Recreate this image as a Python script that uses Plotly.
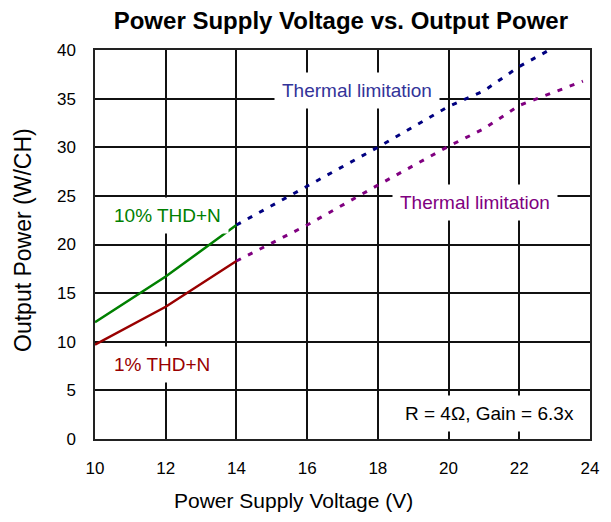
import plotly.graph_objects as go

# 10% THD+N measured (solid) and thermal-limited extension (dotted)
v_10_solid = [10, 12, 14]
p_10_solid = [12.0, 16.7, 22.0]
v_10_dot = [14, 16, 18, 20, 21, 22, 23]
p_10_dot = [22.0, 26.0, 30.0, 34.2, 35.8, 38.3, 40.3]

# 1% THD+N measured (solid) and thermal-limited extension (dotted)
v_1_solid = [10, 12, 14]
p_1_solid = [9.7, 13.6, 18.3]
v_1_dot = [14, 16, 18, 20, 21, 22, 23.8]
p_1_dot = [18.3, 22.0, 26.1, 30.1, 31.9, 34.3, 36.8]

x_ticks = [10, 12, 14, 16, 18, 20, 22, 24]
y_ticks = [0, 5, 10, 15, 20, 25, 30, 35, 40]

FONT = "Liberation Sans, Arial, sans-serif"
DOT = "5px,8px"

fig = go.Figure()
fig.add_trace(go.Scatter(x=v_10_dot, y=p_10_dot, mode="lines",
                         line=dict(color="#000080", width=3, dash=DOT)))
fig.add_trace(go.Scatter(x=v_1_dot, y=p_1_dot, mode="lines",
                         line=dict(color="#800080", width=3, dash=DOT)))
fig.add_trace(go.Scatter(x=v_10_solid, y=p_10_solid, mode="lines",
                         line=dict(color="#008000", width=2.5)))
fig.add_trace(go.Scatter(x=v_1_solid, y=p_1_solid, mode="lines",
                         line=dict(color="#990000", width=2.5)))

ann = [
    dict(x=17.4, y=35.8, text="Thermal limitation", color="#333399"),
    dict(x=20.76, y=24.3, text="Thermal limitation", color="#800080"),
    dict(x=12.06, y=23.0, text="10% THD+N", color="#008000"),
    dict(x=11.9, y=7.7, text="1% THD+N", color="#990000"),
    dict(x=21.15, y=2.67, text="R = 4\u03a9, Gain = 6.3x", color="#000000"),
]
for a in ann:
    fig.add_annotation(x=a["x"], y=a["y"], text=a["text"], showarrow=False,
                       font=dict(family=FONT, size=19, color=a["color"]),
                       bgcolor="white", borderpad=7, xanchor="center", yanchor="middle")

# axis titles
fig.add_annotation(xref="paper", yref="paper", x=0.4004, y=-0.157,
                   text="Power Supply Voltage (V)", showarrow=False,
                   font=dict(family=FONT, size=21, color="black"),
                   xanchor="center", yanchor="middle")
fig.add_annotation(xref="paper", yref="paper", x=0, y=0.5116, xshift=-72,
                   text="Output Power (W/CH)", showarrow=False, textangle=-90,
                   font=dict(family=FONT, size=23, color="black"),
                   xanchor="center", yanchor="middle")

fig.update_layout(
    width=603, height=514,
    margin=dict(l=87, r=14, t=42, b=83),
    paper_bgcolor="white", plot_bgcolor="white",
    showlegend=False,
    font=dict(family=FONT, color="black"),
    title=dict(text="<b>Power Supply Voltage vs. Output Power</b>",
               font=dict(family=FONT, size=24, color="black"),
               x=0.552, xanchor="center", xref="container",
               y=0.9747, yanchor="middle", yref="container"),
    xaxis=dict(range=[10, 24], tickvals=x_ticks, showgrid=True, gridcolor="#111111",
               gridwidth=1.5, showline=True, linecolor="#222222", linewidth=1.5,
               mirror=True, zeroline=False, ticks="", tickfont=dict(size=17),
               ticklabelstandoff=13),
    yaxis=dict(range=[0, 40], tickvals=y_ticks, showgrid=True, gridcolor="#111111",
               gridwidth=1.5, showline=True, linecolor="#222222", linewidth=1.5,
               mirror=True, zeroline=False, ticks="", tickfont=dict(size=17),
               ticklabelstandoff=14),
)
fig.write_html("out.html")
